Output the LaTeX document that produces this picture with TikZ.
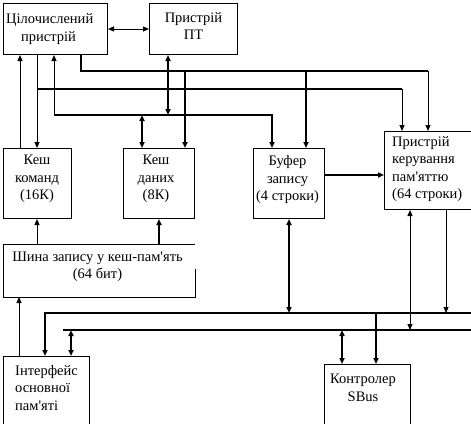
\documentclass[tikz,border=0pt]{standalone}
\usepackage{fontspec}
\setmainfont{Liberation Serif}
\usetikzlibrary{arrows.meta}
\newcommand{\apo}{\textquotesingle}
\begin{document}
\begin{tikzpicture}[x=1pt,y=-1pt,
  box/.style={draw, line width=1pt, anchor=north west, inner sep=0pt},
  lbl/.style={font=\fontsize{14.5}{17.5}\selectfont, align=center, inner sep=0pt},
  thn/.style={line width=1pt},
  thk/.style={line width=2pt},
  >={Triangle[length=6pt,width=5pt]}
]
\useasboundingbox (0,0) rectangle (471,423);
\clip (0,0) rectangle (471,423);
% boxes
\node[box, minimum width=104pt, minimum height=51pt] (ipu) at (3,3) {};
\node[box, minimum width=88pt, minimum height=51pt] (fpu) at (149,3) {};
\node[box, minimum width=68pt, minimum height=70pt] (ic) at (3,148) {};
\node[box, minimum width=71pt, minimum height=70pt] (dc) at (123,148) {};
\node[box, draw=none, minimum width=191pt, minimum height=52pt] (wbus) at (3,244) {};
\node[box, minimum width=100pt, minimum height=78pt] (mmu) at (384,131) {};
\node[box, minimum width=71pt, minimum height=70pt] (wb) at (253,148) {};
\node[box, minimum width=86pt, minimum height=80pt] (mif) at (3,356) {};
\node[box, minimum width=86pt, minimum height=80pt] (sbus) at (324,364) {};
\draw[thn] (wbus.north east) -- (wbus.north west) -- (wbus.south west) -- (wbus.south east) -- ([yshift=28pt]wbus.south east);
% labels
\node[lbl, align=left, anchor=west] (tipu) at (6,29) {Цілочислений\\\hspace*{15pt}пристрій};
\node[lbl] (tfpu) at (193.5,26) {Пристрій\\ПТ};
\node[lbl] (tic) at (37,179) {Кеш\\команд\\(16К)};
\node[lbl] (tdc) at (156,179) {Кеш\\даних\\(8К)};
\node[lbl] (twbus) at (97.5,267) {Шина запису у кеш-пам\apo ять\\(64 бит)};
\node[lbl] (twb) at (287.5,180) {Буфер\\запису\\(4 строки)};
\node[lbl, align=left, anchor=west] (tmmu) at (392,169) {Пристрій\\керування\\пам\apo яттю\\(64 строки)};
\node[lbl, align=left, anchor=west] (tmif) at (15,388) {Інтерфейс\\основної\\пам\apo яті};
\node[lbl] (tsbus) at (363,388) {Контролер\\SBus};
% columns and rows
\foreach \n in {19,20,37,45,54,71,81,142,159,168,185,272,289,306,342,376,402,410,428,446}
  \coordinate (c\n) at (\n,0);
\coordinate (rA) at (0,71);
\coordinate (rB) at (0,89);
\coordinate (rC) at (0,115);
\coordinate (rW) at (0,175);
\coordinate (r1) at (0,313);
\coordinate (r2) at (0,330);
\coordinate (bus1e) at (471,313);
\coordinate (bus2w) at (63,330);
\coordinate (bus2e) at (471,330);
% connectors
\draw[thn,<->] (ipu.east) -- (fpu.west);
\draw[thn,->] (ic.north -| c20) -- (ipu.south -| c20);
\draw[thn,->] (ipu.south -| c37) -- (ic.north -| c37);
\draw[thk] (c37 |- rB) -- (c402 |- rB);
\draw[thn,->] (c402 |- rB) -- (mmu.north -| c402);
\draw[thn,->] (c54 |- rC) -- (ipu.south -| c54);
\draw[thk,->] (c54 |- rC) -| (wb.north -| c272);
\draw[thk] (ipu.south -| c81) |- (c428 |- rA);
\draw[thn,->] (c428 |- rA) -- (mmu.north -| c428);
\draw[thk,->] (c185 |- rA) -- (dc.north -| c185);
\draw[thk,->] (c306 |- rA) -- (wb.north -| c306);
\draw[thk,<->] (fpu.south -| c168) -- (c168 |- rC);
\draw[thk,<->] (c142 |- rC) -- (dc.north -| c142);
\draw[thn,->] (wbus.north -| c37) -- (ic.south -| c37);
\draw[thk,->] (wbus.north -| c159) -- (dc.south -| c159);
\draw[thk,->] (wb.east |- rW) -- (mmu.west |- rW);
\draw[thk,<->] (wb.south -| c289) -- (c289 |- r1);
\draw[thn,<->] (mmu.south -| c410) -- (c410 |- r2);
\draw[thn,->] (mmu.south -| c446) -- (c446 |- r1);
\draw[thk,->] (bus1e) -| (mif.north -| c45);
\draw[thk] (bus2w) -- (bus2e);
\draw[thk,<->] (c71 |- r2) -- (mif.north -| c71);
\draw[thn,->] (mif.north -| c19) -- (wbus.south -| c19);
\draw[thk,<->] (c342 |- r2) -- (sbus.north -| c342);
\draw[thk,->] (c376 |- r1) -- (sbus.north -| c376);
\end{tikzpicture}
\end{document}
